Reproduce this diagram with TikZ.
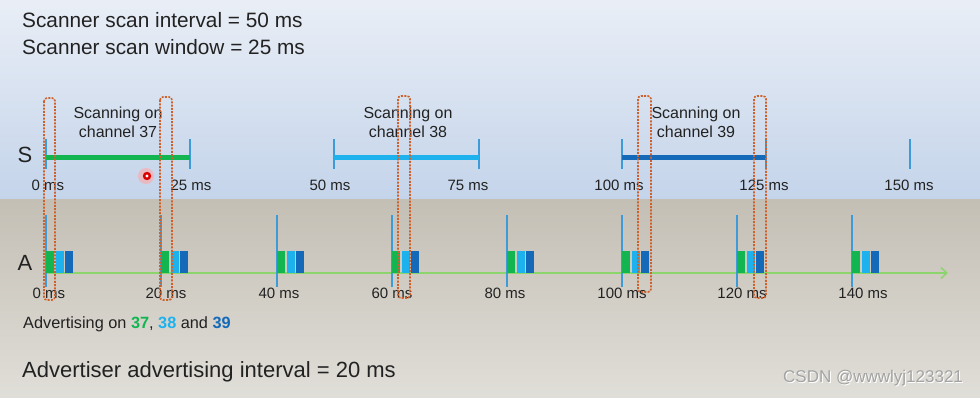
\documentclass[tikz,border=0pt]{standalone}
\usepackage{fontspec}
\setmainfont{Liberation Sans}
\usetikzlibrary{arrows.meta}
\definecolor{txt}{HTML}{222222}
\definecolor{cgreen}{HTML}{12B550}
\definecolor{clblue}{HTML}{1DB2EE}
\definecolor{cdblue}{HTML}{1469B8}
\definecolor{tickc}{HTML}{3D9BD8}
\definecolor{agreen}{HTML}{8CD46C}
\definecolor{dashc}{HTML}{D0602A}
\definecolor{wmark}{HTML}{A3A3A3}
\tikzset{
  big/.style={font=\fontsize{20.8}{24}\selectfont, text=txt, inner sep=0pt},
  lbl/.style={font=\fontsize{15}{18}\selectfont, text=txt, inner sep=0pt},
  scanlbl/.style={font=\fontsize{16}{19}\selectfont, text=txt, align=center, inner sep=0pt},
  axl/.style={font=\fontsize{22}{24}\selectfont, text=txt, inner sep=0pt},
  stick/.style={draw=tickc, line width=1.5pt},
  scanbar/.style={line width=5pt},
  win/.style={draw=dashc, line width=1.6pt, dash pattern=on 2pt off 1.3pt, rounded corners=3pt},
  blk/.style={inner sep=0pt, minimum width=8pt, minimum height=22pt, anchor=south west}
}
\begin{document}
\begin{tikzpicture}[x=1pt,y=-1pt]
\useasboundingbox (0,0) rectangle (980,397);
% backgrounds
\shade[top color={rgb,255:red,233;green,238;blue,246}, bottom color={rgb,255:red,196;green,212;blue,234}] (0,0) rectangle (980,199);
\shade[top color={rgb,255:red,196;green,191;blue,181}, bottom color={rgb,255:red,224;green,222;blue,216}] (0,199) rectangle (980,397);

% titles
\node[big, anchor=west] (t1) at (22,20) {Scanner scan interval = 50 ms};
\node[big, anchor=west] (t2) at (22,47) {Scanner scan window = 25 ms};
\node[big, font=\fontsize{22}{26}\selectfont, anchor=west] (t3) at (22,372) {Advertiser advertising interval = 20 ms};

% axis letters
\node[axl] (S) at (25,155) {S};
\node[axl] (A) at (25,263) {A};

% scanner ticks
\foreach \t/\x in {0/46,25/190,50/334,75/479,100/622,125/766,150/910}{
  \coordinate (s\t) at (\x,157);
  \draw[stick] (\x,139) -- (\x,169);
}
\draw[scanbar, cgreen] (s0) -- (s25);
\draw[scanbar, clblue] (s50) -- (s75);
\draw[scanbar, cdblue] (s100) -- (s125);

\node[scanlbl] (c37) at (118,122) {Scanning on\\channel 37};
\node[scanlbl] (c38) at (408,122) {Scanning on\\channel 38};
\node[scanlbl] (c39) at (696,122) {Scanning on\\channel 39};

\foreach \n/\x in {0/48,25/191,50/330,75/468,100/619,125/764,150/909}{
  \node[lbl] (sl\n) at (\x,185) {\n\ ms};
}

% advertiser line
\coordinate (astart) at (46,273);
\coordinate (aend) at (948,273);
\draw[agreen, line width=1.5pt, -{Straight Barb[length=6pt,width=11pt,line width=1.5pt]}] (astart) -- (aend);

\foreach \t/\x/\lx in {0/46/49,20/161/166,40/277/279,60/392/392,80/507/505,100/622/622,120/737/742,140/852/863}{
  \draw[stick] (\x,215) -- (\x,287);
  \node[blk, fill=cgreen] (g\t) at (\x,273) {};
  \node[blk, fill=clblue] (l\t) at (\x+9.5,273) {};
  \node[blk, fill=cdblue] (d\t) at (\x+19,273) {};
  \node[lbl] (al\t) at (\lx,293) {\t\ ms};
}

\node[lbl, font=\fontsize{16.3}{19}\selectfont, anchor=west] (adv) at (23,324) {Advertising on {\bfseries\color{cgreen}37}, {\bfseries\color{clblue}38} and {\bfseries\color{cdblue}39}};

% scan windows (dashed)
\draw[win] (44,98) rectangle (55,300);
\draw[win] (160,97) rectangle (172,300);
\draw[win] (398,96) rectangle (410,298);
\draw[win] (638,96) rectangle (651,292);
\draw[win] (754,96) rectangle (766,298);

% pointer
\fill[red!35, opacity=0.6] (146,176) circle (8);
\fill[red!85!black] (147,176) circle (4.2);
\fill[white] (147,176) circle (1.6);

% watermark
\node[lbl, font=\fontsize{17}{19}\selectfont, text=white, anchor=west] (wm2) at (784,379) {CSDN @wwwlyj123321};
\node[lbl, font=\fontsize{17}{19}\selectfont, text=wmark, anchor=west] (wm) at (783,378) {CSDN @wwwlyj123321};
\end{tikzpicture}
\end{document}
